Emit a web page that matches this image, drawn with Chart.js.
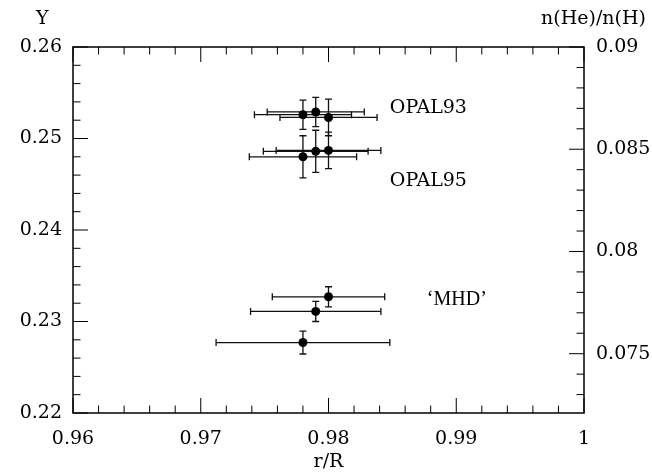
<!DOCTYPE html>
<html>
<head>
<meta charset="utf-8">
<script src="https://cdn.jsdelivr.net/npm/chart.js@4"></script>
<style>body{margin:0;background:#fff}</style>
</head>
<body>
<canvas id="chart" width="652" height="476"></canvas>
<script>
// values
const opal93X = [0.978, 0.979, 0.980];
const opal93Y = [0.2526, 0.2529, 0.2523];
const opal93Xerr = [0.0038, 0.0038, 0.0038];
const opal93Yerr = [0.0016, 0.0016, 0.0020];

const opal95X = [0.978, 0.979, 0.980];
const opal95Y = [0.2480, 0.2486, 0.2487];
const opal95Xerr = [0.0042, 0.0041, 0.0041];
const opal95Yerr = [0.0023, 0.0023, 0.0020];

const mhdX = [0.980, 0.979, 0.978];
const mhdY = [0.2327, 0.2311, 0.2277];
const mhdXerr = [0.0044, 0.0051, 0.0068];
const mhdYerr = [0.0011, 0.0011, 0.00125];

const xTicks = [0.96, 0.97, 0.98, 0.99, 1];
const yTicks = [0.22, 0.23, 0.24, 0.25, 0.26];
const heTicks = [0.075, 0.08, 0.085, 0.09];

const groupNames = ["OPAL93", "OPAL95", "\u2018MHD\u2019"];
const labelX = [0.9848, 0.9848, 0.9877];
const labelY = [0.2533, 0.2453, 0.2324];

const FONT = "DejaVu Serif";

function pts(xs, ys, xe, ye) {
  return xs.map((x, i) => ({ x: x, y: ys[i], xe: xe[i], ye: ye[i] }));
}

function fmt(v) { return String(+v.toFixed(3)); }

const errorBars = {
  id: "errorBars",
  beforeDatasetsDraw(c) {
    const ctx = c.ctx, xs = c.scales.x, ys = c.scales.y;
    ctx.save();
    ctx.strokeStyle = "#111";
    ctx.lineWidth = 1.3;
    c.data.datasets.forEach(ds => {
      ds.data.forEach(p => {
        const px = xs.getPixelForValue(p.x), py = ys.getPixelForValue(p.y);
        const x0 = xs.getPixelForValue(p.x - p.xe), x1 = xs.getPixelForValue(p.x + p.xe);
        const y0 = ys.getPixelForValue(p.y - p.ye), y1 = ys.getPixelForValue(p.y + p.ye);
        ctx.beginPath();
        ctx.moveTo(x0, py); ctx.lineTo(x1, py);
        ctx.moveTo(x0, py - 3.5); ctx.lineTo(x0, py + 3.5);
        ctx.moveTo(x1, py - 3.5); ctx.lineTo(x1, py + 3.5);
        ctx.moveTo(px, y0); ctx.lineTo(px, y1);
        ctx.moveTo(px - 3.5, y0); ctx.lineTo(px + 3.5, y0);
        ctx.moveTo(px - 3.5, y1); ctx.lineTo(px + 3.5, y1);
        ctx.stroke();
      });
    });
    ctx.restore();
  }
};

const frame = {
  id: "frame",
  afterDraw(c) {
    const ctx = c.ctx, a = c.chartArea;
    const xs = c.scales.x, ys = c.scales.y, y2 = c.scales.y2;
    ctx.save();
    ctx.strokeStyle = "#000";
    ctx.lineWidth = 1.5;
    ctx.strokeRect(a.left, a.top, a.right - a.left, a.bottom - a.top);
    ctx.lineWidth = 1;
    ctx.beginPath();
    for (let i = 0; i <= 20; i++) {
      const v = 0.96 + i * 0.002;
      const len = i % 5 === 0 ? 15 : 7.5;
      const px = xs.getPixelForValue(v);
      ctx.moveTo(px, a.bottom); ctx.lineTo(px, a.bottom - len);
      ctx.moveTo(px, a.top); ctx.lineTo(px, a.top + len);
    }
    for (let i = 0; i <= 20; i++) {
      const v = 0.22 + i * 0.002;
      const len = i % 5 === 0 ? 15 : 7.5;
      const py = ys.getPixelForValue(v);
      ctx.moveTo(a.left, py); ctx.lineTo(a.left + len, py);
    }
    for (let i = 73; i <= 90; i++) {
      const v = i / 1000;
      if (v < y2.min) continue;
      const len = i % 5 === 0 ? 15 : 7.5;
      const py = y2.getPixelForValue(v);
      ctx.moveTo(a.right, py); ctx.lineTo(a.right - len, py);
    }
    ctx.stroke();

    ctx.fillStyle = "#000";
    ctx.font = "19px '" + FONT + "'";
    ctx.textBaseline = "middle";
    ctx.textAlign = "left";
    ctx.fillText("Y", 36, 19);
    ctx.textAlign = "right";
    ctx.fillText("n(He)/n(H)", 646, 19);
    ctx.textAlign = "center";
    ctx.fillText("r/R", (a.left + a.right) / 2, 462);

    ctx.textAlign = "left";
    groupNames.forEach((name, i) => {
      ctx.font = i === 2 ? "20px 'Liberation Serif'" : "19px '" + FONT + "'";
      ctx.fillText(name, xs.getPixelForValue(labelX[i]), ys.getPixelForValue(labelY[i]));
    });
    ctx.restore();
  }
};

const tickFont = { family: FONT, size: 19 };

new Chart(document.getElementById("chart"), {
  type: "scatter",
  data: {
    datasets: [
      { label: "OPAL93", data: pts(opal93X, opal93Y, opal93Xerr, opal93Yerr) },
      { label: "OPAL95", data: pts(opal95X, opal95Y, opal95Xerr, opal95Yerr) },
      { label: "MHD", data: pts(mhdX, mhdY, mhdXerr, mhdYerr) }
    ]
  },
  options: {
    responsive: false,
    animation: false,
    layout: { padding: { top: 47, left: 0, right: 0, bottom: 0 } },
    elements: {
      point: { radius: 4.5, backgroundColor: "#000", borderColor: "#000", borderWidth: 0, hoverRadius: 4.5 }
    },
    plugins: { legend: { display: false }, tooltip: { enabled: false } },
    scales: {
      x: {
        type: "linear", min: 0.96, max: 1,
        grid: { display: false, drawTicks: false }, border: { display: false },
        afterBuildTicks: s => { s.ticks = xTicks.map(v => ({ value: v })); },
        afterFit: s => { s.height = 63; },
        ticks: { font: tickFont, color: "#000", padding: 15, maxRotation: 0, callback: v => fmt(v) }
      },
      y: {
        type: "linear", position: "left", min: 0.22, max: 0.26,
        grid: { display: false, drawTicks: false }, border: { display: false },
        afterBuildTicks: s => { s.ticks = yTicks.map(v => ({ value: v })); },
        afterFit: s => { s.width = 73; },
        ticks: { font: tickFont, color: "#000", padding: 11, callback: v => fmt(v) }
      },
      y2: {
        type: "linear", position: "right", min: 0.0721, max: 0.09,
        grid: { display: false, drawTicks: false }, border: { display: false },
        afterBuildTicks: s => { s.ticks = heTicks.map(v => ({ value: v })); },
        afterFit: s => { s.width = 68; },
        ticks: { font: tickFont, color: "#000", padding: 12, callback: v => fmt(v) }
      }
    }
  },
  plugins: [errorBars, frame]
});
</script>
</body>
</html>
